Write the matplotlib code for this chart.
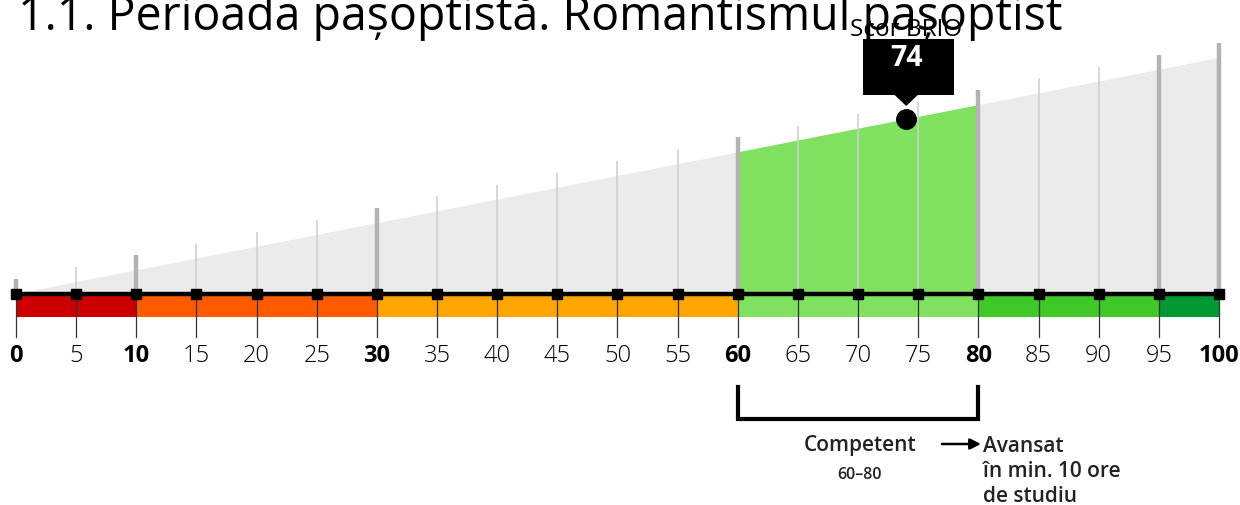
import matplotlib
matplotlib.use("Agg")
import matplotlib.pyplot as plt
from matplotlib.patches import Polygon, Rectangle

# ---- data ----
ticks = [0, 5, 10, 15, 20, 25, 30, 35, 40, 45, 50, 55, 60, 65, 70, 75, 80, 85, 90, 95, 100]
bold_ticks = [0, 10, 30, 60, 80, 100]
band_edges = [0, 10, 30, 60, 80, 95, 100]
band_colors = ["#cc0000", "#ff5a00", "#ffa500", "#80e060", "#40c828", "#009933"]
score = 74
level_range = (60, 80)
level_name = "Competent"
level_label = "60–80"
next_level_lines = ["Avansat", "în min. 10 ore", "de studiu"]
title = "1.1. Perioada pașoptistă. Romantismul pașoptist"
score_label = "Scor BRIO"

plt.rcParams['font.family'] = ['Open Sans', 'DejaVu Sans']

W, H = 1240, 506
fig = plt.figure(figsize=(W / 100, H / 100), dpi=100)
ax = fig.add_axes([0, 0, 1, 1])
px_per_unit = (1219 - 16) / 100.0
ax.set_xlim(-16 / px_per_unit, (W - 16) / px_per_unit)
ax.set_ylim(H, 0)
ax.axis("off")

def ux(px):
    return (px - 16) / px_per_unit

base_y = 295
slope = 2.36      # px of wedge height per unit
def top(v):
    return base_y - slope * v

# grey wedge
ax.add_patch(Polygon([(0, base_y), (100, top(100)), (100, base_y)],
                     closed=True, facecolor="#ebebeb", edgecolor="none", zorder=1))
# highlighted level on wedge
lo, hi = level_range
ax.add_patch(Polygon([(lo, base_y), (lo, top(lo)), (hi, top(hi)), (hi, base_y)],
                     closed=True, facecolor="#80e060", edgecolor="none", zorder=2))

# vertical guide lines
for t in ticks:
    thick = t in band_edges
    ax.plot([t, t], [base_y, top(t) - 15], color="#b3b3b3" if thick else "#cfcfcf",
            lw=3.2 if thick else 1.2, solid_capstyle="butt", zorder=3)

# colour bands
for (a, b), c in zip(zip(band_edges[:-1], band_edges[1:]), band_colors):
    ax.add_patch(Rectangle((a, 296), b - a, 22, facecolor=c, edgecolor="none", zorder=2))

# ticks below
for t in ticks:
    ax.plot([t, t], [base_y, 338], color="#333333", lw=0.9, zorder=4)

# baseline + markers
ax.plot([0, 100], [base_y, base_y], color="black", lw=3.2, zorder=5, solid_capstyle="butt")
ax.plot(ticks, [base_y] * len(ticks), "s", color="black", ms=6.5, zorder=6)

# tick labels
for t in ticks:
    b = t in bold_ticks
    ax.text(t, 356, str(t), ha="center", va="center", fontsize=17,
            fontweight="bold" if b else "light", color="black", zorder=6)

# score marker
ax.plot([score], [top(score)], "o", color="black", ms=14, zorder=7)

# tooltip box
bx0, bx1 = ux(863), ux(954)
ax.add_patch(Rectangle((bx0, 40), bx1 - bx0, 56, facecolor="black", edgecolor="none", zorder=8))
ax.add_patch(Polygon([(score - 1.05, 95), (score + 1.05, 95), (score, 107)],
                     closed=True, facecolor="black", edgecolor="none", zorder=8))
ax.text(score, 58, str(score), ha="center", va="center", fontsize=20.5,
        fontweight="bold", color="white", zorder=9)

# title and score label
ax.text(ux(18), 30, title, ha="left", va="baseline",
        fontsize=33.5, color="black", zorder=10)
ax.text(score, 30, score_label, ha="center", va="center", fontsize=17.5,
        color="black", zorder=11)

# bracket
ax.plot([lo, lo, hi, hi], [388, 420, 420, 388], color="black", lw=3,
        solid_joinstyle="miter", zorder=5)
ax.text((lo + hi) / 2 + 0.15, 446, level_name, ha="center", va="center",
        fontsize=15, fontweight="semibold", color="#222222")
ax.text((lo + hi) / 2 + 0.15, 475, level_label, ha="center", va="center",
        fontsize=11.5, fontweight="semibold", color="#222222")

# arrow to next level
ax.annotate("", xy=(ux(981), 445), xytext=(ux(942), 445),
            arrowprops=dict(arrowstyle="-|>", color="black", lw=1.8,
                            mutation_scale=16, shrinkA=0, shrinkB=0))
for i, line in enumerate(next_level_lines):
    ax.text(ux(983), 447 + 25 * i, line, ha="left", va="center", fontsize=15,
            fontweight="semibold", color="#222222")

fig.savefig("out.png", dpi=100)
